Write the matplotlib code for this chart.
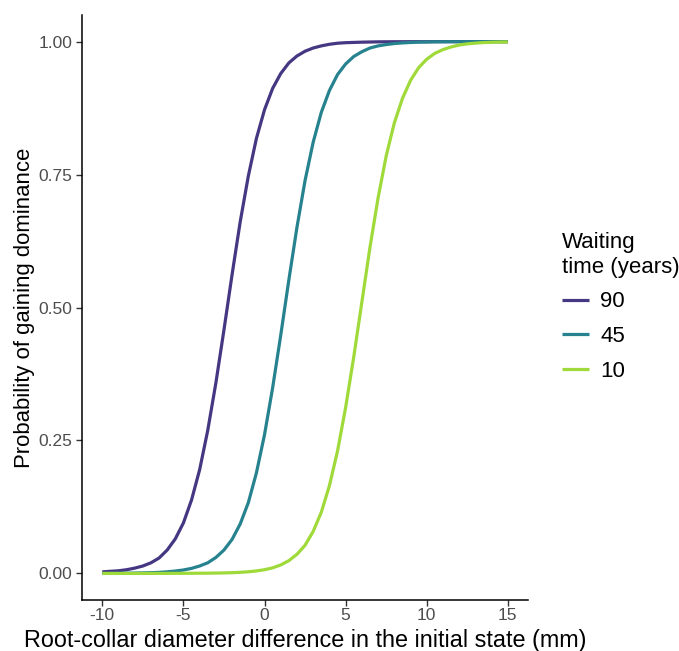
import matplotlib
matplotlib.use("Agg")
import matplotlib.pyplot as plt

plt.rcParams["font.family"] = ["Liberation Sans", "DejaVu Sans"]

# x positions of the fitted curves (mm)
diameter_diff = [-10 + 0.5 * i for i in range(51)]

# probability of gaining dominance
p_90 = [0.003, 0.004, 0.005, 0.007, 0.010, 0.014, 0.020, 0.029, 0.044, 0.065,
        0.095, 0.138, 0.195, 0.269, 0.358, 0.458, 0.562, 0.661, 0.747, 0.818,
        0.872, 0.912, 0.940, 0.960, 0.973, 0.982, 0.988, 0.992, 0.995, 0.997,
        0.998, 0.9985, 0.999, 0.9993, 0.9996, 0.9997, 0.9998, 0.9998, 0.9999, 0.9999,
        0.9999, 1.0, 1.0, 1.0, 1.0, 1.0, 1.0, 1.0, 1.0, 1.0, 1.0]
p_45 = [0.0002, 0.0003, 0.0004, 0.0005, 0.0007, 0.0010, 0.0014, 0.0020, 0.0030, 0.0045,
        0.0065, 0.0095, 0.014, 0.020, 0.030, 0.044, 0.064, 0.093, 0.133, 0.189,
        0.261, 0.349, 0.448, 0.552, 0.651, 0.739, 0.811, 0.867, 0.908, 0.938,
        0.958, 0.972, 0.981, 0.988, 0.992, 0.9945, 0.9964, 0.9976, 0.9984, 0.999,
        0.9993, 0.9996, 0.9997, 0.9998, 0.9998, 0.9999, 0.9999, 1.0, 1.0, 1.0, 1.0]
p_10 = [0.0, 0.0, 0.0, 0.0, 0.0, 0.0, 0.0001, 0.0001, 0.0001, 0.0002,
        0.0002, 0.0003, 0.0004, 0.0005, 0.0007, 0.0010, 0.0014, 0.0021, 0.0031, 0.0047,
        0.0070, 0.0105, 0.016, 0.024, 0.036, 0.053, 0.079, 0.115, 0.165, 0.230,
        0.312, 0.407, 0.510, 0.613, 0.706, 0.785, 0.847, 0.893, 0.927, 0.951,
        0.967, 0.978, 0.985, 0.990, 0.9936, 0.9958, 0.9972, 0.9982, 0.9988, 0.9992, 0.9995]

waiting_times = ["90", "45", "10"]
colors = ["#453781", "#26828E", "#9FDA3A"]

fig = plt.figure(figsize=(6.79, 6.51), dpi=100)
ax = fig.add_axes([0.1208, 0.0783, 0.657, 0.8986])

for label, p, c in zip(waiting_times, [p_90, p_45, p_10], colors):
    ax.plot(diameter_diff, p, color=c, lw=2.3, label=label, solid_capstyle="butt")

ax.set_xlim(-11.25, 16.25)
ax.set_ylim(-0.05, 1.05)
ax.set_xticks([-10, -5, 0, 5, 10, 15])
ax.set_xticklabels(["-10", "-5", "0", "5", "10", "15"])
ax.set_yticks([0, 0.25, 0.5, 0.75, 1.0])
ax.set_yticklabels(["0.00", "0.25", "0.50", "0.75", "1.00"])

for side in ["top", "right"]:
    ax.spines[side].set_visible(False)
for side in ["left", "bottom"]:
    ax.spines[side].set_linewidth(1.1)
    ax.spines[side].set_color("black")
ax.tick_params(axis="both", length=4, width=1, color="#333333",
               labelcolor="#4D4D4D", labelsize=12.5)
ax.tick_params(axis="x", pad=1.5)
ax.tick_params(axis="y", pad=3)

ax.set_xlabel("Root-collar diameter difference in the initial state (mm)",
              fontsize=16.8, color="black", labelpad=4.5)
ax.set_ylabel("Probability of gaining dominance", fontsize=15.9,
              color="black", labelpad=2.5)

leg = fig.legend(title="Waiting\ntime (years)", loc="upper left",
                 bbox_to_anchor=(0.8277, 0.643), frameon=False,
                 borderpad=0, borderaxespad=0,
                 fontsize=16, title_fontsize=16, handlelength=1.22,
                 handletextpad=0.5, labelspacing=0.62, alignment="left")

plt.savefig("out.png", dpi=100)
